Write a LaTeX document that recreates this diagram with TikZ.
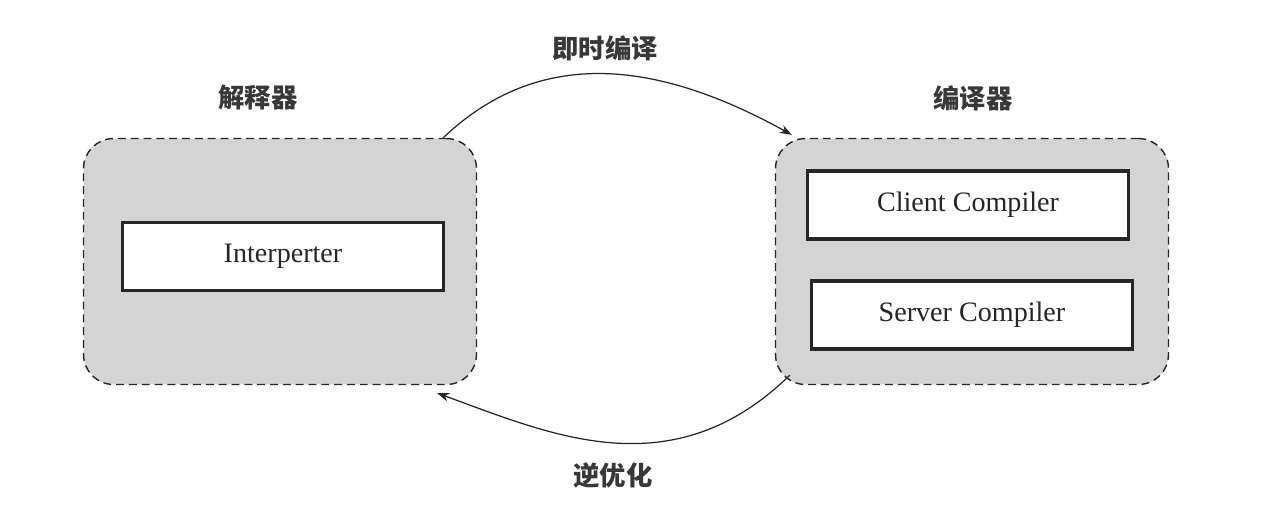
\documentclass[tikz,border=0pt]{standalone}
\usepackage{fontspec}
\setmainfont{Liberation Serif}
\newfontfamily\cjk{Noto Sans CJK SC}
\usepackage{tikz}
\usetikzlibrary{arrows.meta,positioning,calc}
\definecolor{panelgray}{HTML}{D4D4D4}
\definecolor{ink}{HTML}{262626}
\definecolor{lblink}{HTML}{383838}

\begin{document}
\begin{tikzpicture}[x=0.02cm, y=-0.02cm,
  panel/.style={draw=ink, dashed, dash pattern=on 4.5pt off 2.8pt, line width=0.8pt, fill=panelgray, rounded corners=0.6cm, minimum width=7.86cm, minimum height=4.92cm},
  inbox/.style={draw=ink, line width=2.2pt, fill=white, minimum width=6.42cm, minimum height=1.36cm, font=\fontsize{16}{19}\selectfont, text=ink},
  lbl/.style={font=\cjk\bfseries\fontsize{15}{18}\selectfont, text=lblink},
  arrow/.style={-{Stealth[length=2.4mm, width=1.7mm]}, line width=0.7pt, draw=ink}
]
\useasboundingbox (0,0) rectangle (1282,514);
\node[panel] (interp) at (280,261.5) {};
\node[panel] (comp) at (972,261.5) {};
\node[inbox] (ibox) at (283,256.5) {Interperter};
\node[inbox] (client) at (968,205) {Client Compiler};
\node[inbox] (server) at (972,315) {Server Compiler};
\node[lbl] (interplbl) at (258,98) {解释器};
\node[lbl] (complbl) at (973,98) {编译器};
\node[lbl] (jit) at (605,48) {即时编译};
\node[lbl] (deopt) at (613,475) {逆优化};
\coordinate (jitstart) at ($(interp.north east)+(-34,0)$);
\coordinate (jitend) at ($(comp.north west)+(17,-3)$);
\coordinate (deoptstart) at ($(comp.south west)+(15,-10)$);
\coordinate (deoptend) at ($(interp.south east)+(-40,8)$);
\draw[arrow] (jitstart) .. controls (546,40) and (669,67) .. (jitend);
\draw[arrow] (deoptstart) .. controls (672,490) and (550,434) .. (deoptend);
\end{tikzpicture}
\end{document}
